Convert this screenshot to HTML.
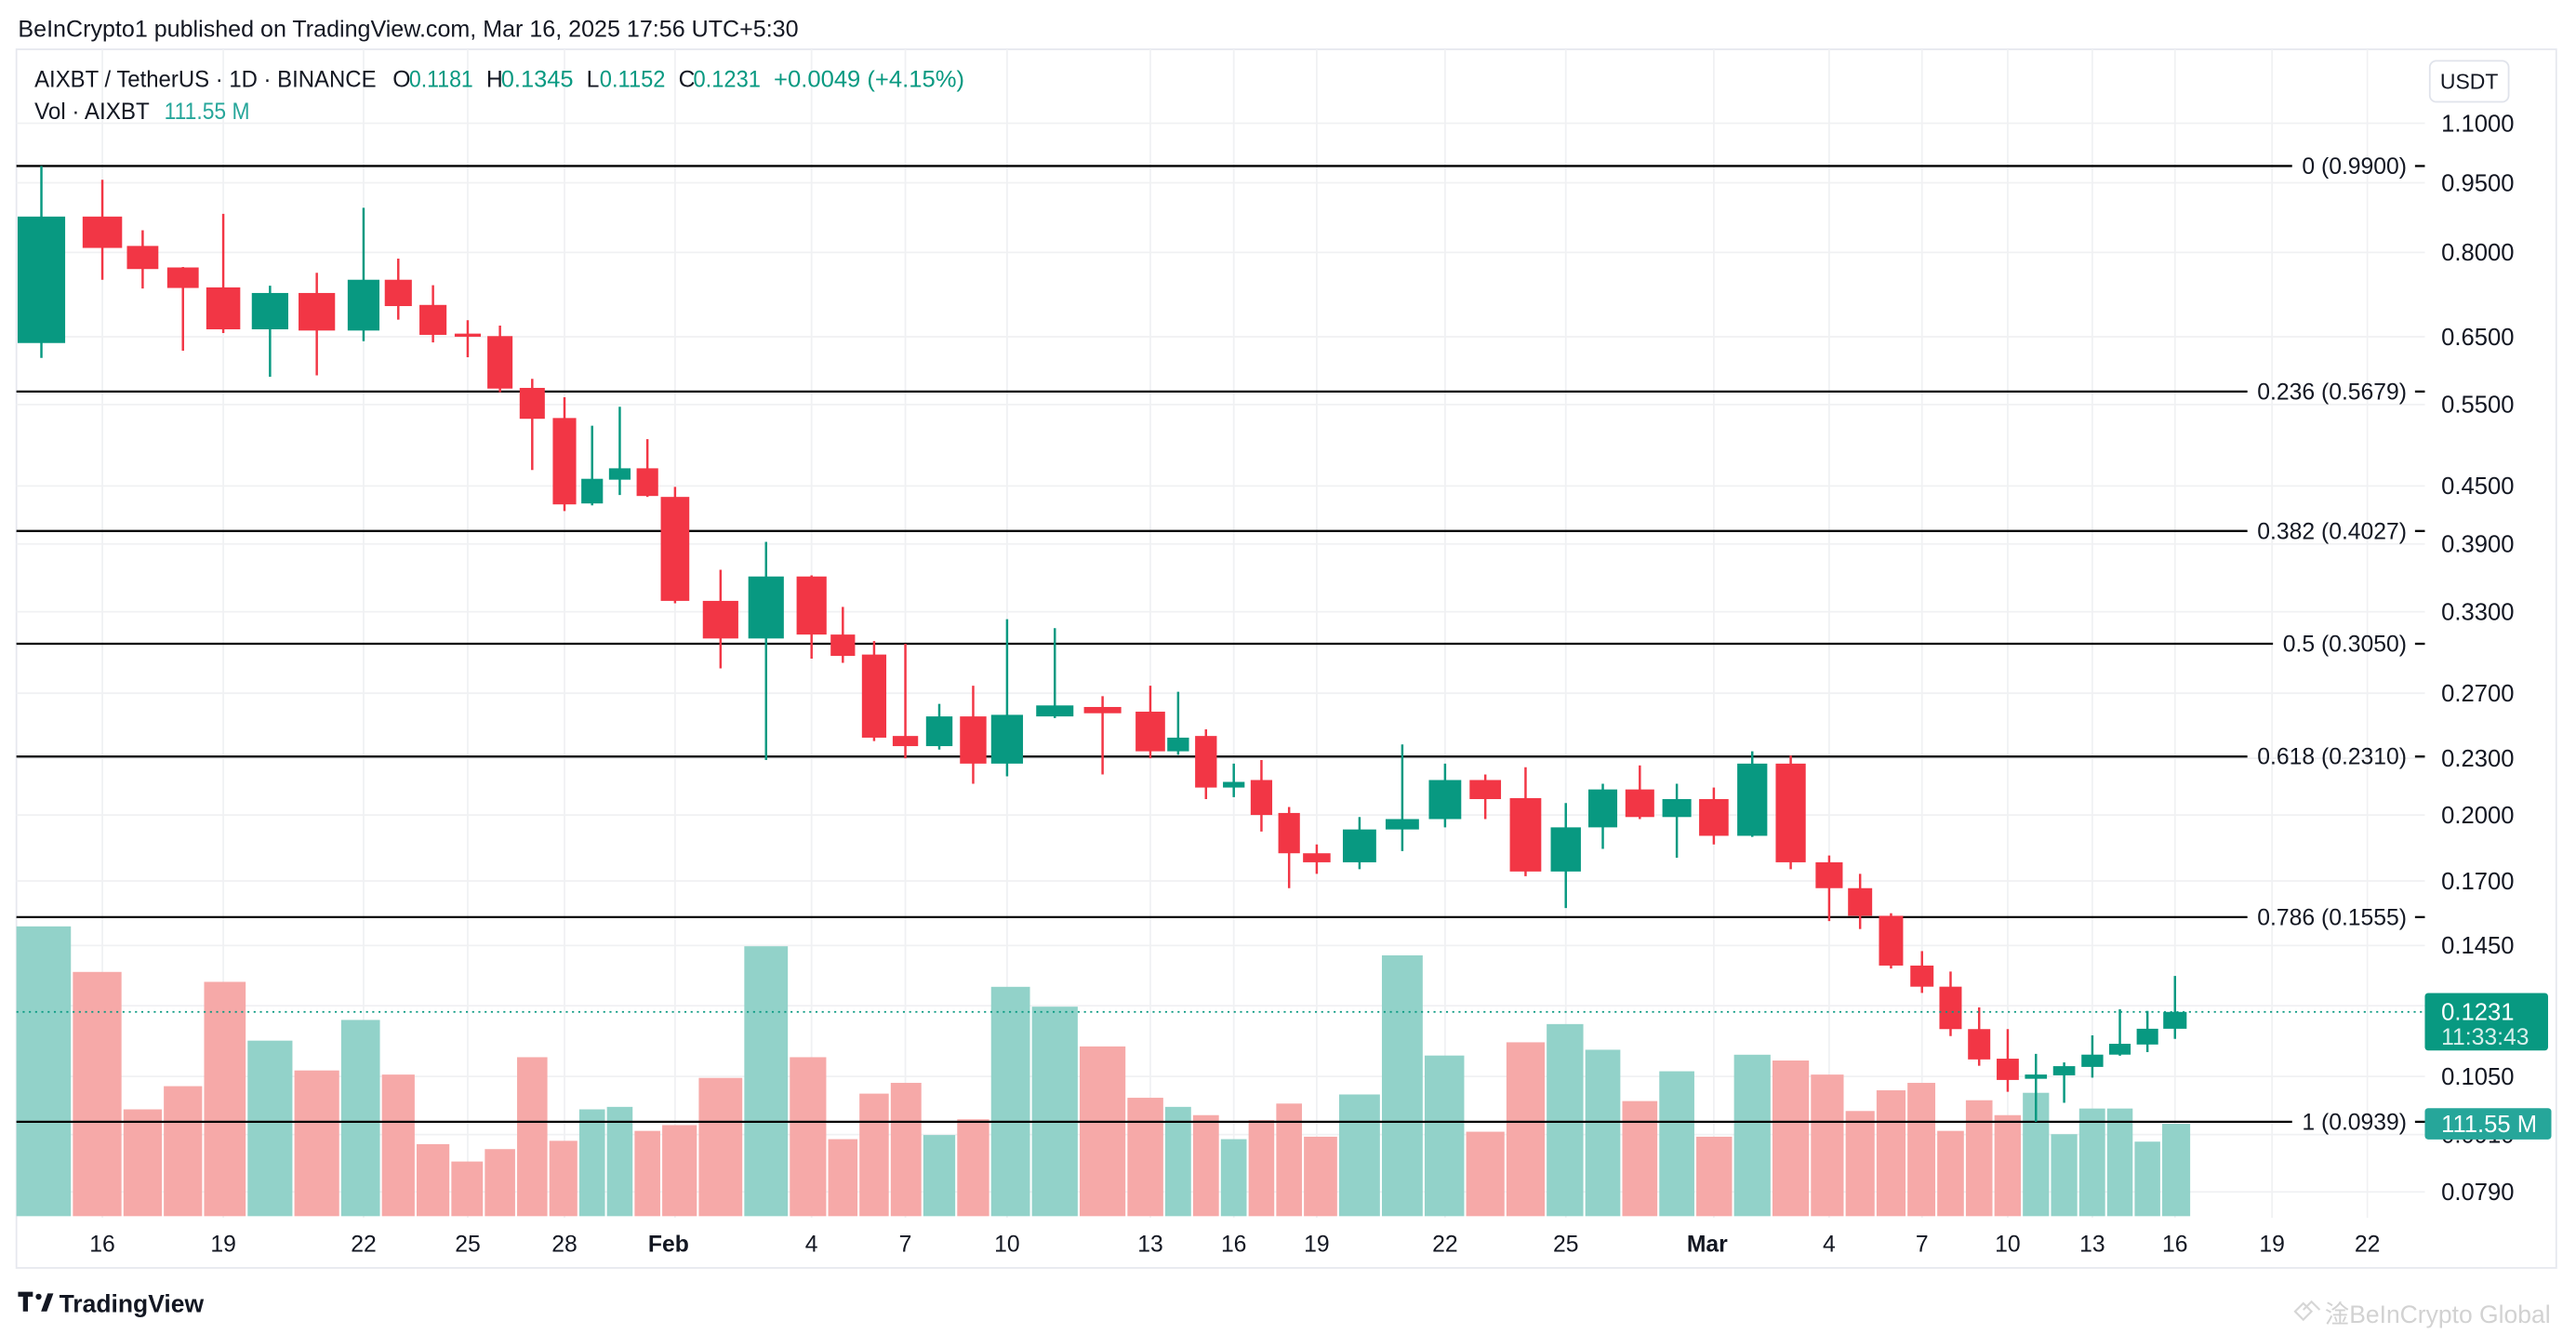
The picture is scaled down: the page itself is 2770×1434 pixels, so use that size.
<!DOCTYPE html>
<html><head><meta charset="utf-8"><style>
html,body{margin:0;padding:0;background:#fff;}
svg{display:block;font-family:"Liberation Sans","DejaVu Sans",sans-serif;}
</style></head><body>
<svg id="chart" xmlns="http://www.w3.org/2000/svg" width="2770" height="1434" viewBox="0 0 1568 811.7" preserveAspectRatio="none">
<rect x="0" y="0" width="1568" height="811.7" fill="#ffffff"/>
<text x="11" y="22.5" font-size="14" fill="#131722" textLength="475" lengthAdjust="spacingAndGlyphs">BeInCrypto1 published on TradingView.com, Mar 16, 2025 17:56 UTC+5:30</text>
<rect x="10" y="30" width="1546" height="741.5" fill="none" stroke="#e6e8ee" stroke-width="1"/>
<g id="grid"></g>
<g id="vol"></g>
<g id="fib"></g>
<g id="candles"></g>
<g id="axis"></g>
<g font-size="14">
 <text x="21" y="53" fill="#131722" textLength="208" lengthAdjust="spacingAndGlyphs">AIXBT / TetherUS · 1D · BINANCE</text>
 <text x="239" y="53" fill="#131722">O</text><text x="249" y="53" fill="#089981" textLength="39" lengthAdjust="spacingAndGlyphs">0.1181</text>
 <text x="296" y="53" fill="#131722">H</text><text x="305" y="53" fill="#089981" textLength="44" lengthAdjust="spacingAndGlyphs">0.1345</text>
 <text x="357" y="53" fill="#131722">L</text><text x="365" y="53" fill="#089981" textLength="40" lengthAdjust="spacingAndGlyphs">0.1152</text>
 <text x="413" y="53" fill="#131722">C</text><text x="422" y="53" fill="#089981" textLength="41" lengthAdjust="spacingAndGlyphs">0.1231</text>
 <text x="471" y="53" fill="#089981" textLength="116" lengthAdjust="spacingAndGlyphs">+0.0049 (+4.15%)</text>
 <text x="21" y="72.5" fill="#131722" textLength="70" lengthAdjust="spacingAndGlyphs">Vol · AIXBT</text>
 <text x="100" y="72.5" fill="#26a69a" textLength="52" lengthAdjust="spacingAndGlyphs">111.55 M</text>
</g>
<g>
 <rect x="1479" y="37" width="48" height="25" rx="4" fill="#fff" stroke="#e0e3eb"/>
 <text x="1503" y="54" font-size="13" text-anchor="middle" fill="#131722">USDT</text>
</g>
<g>
 <path d="M11 786 h9 v3 h-3 v9 h-3 v-9 h-3 z" fill="#131722"/>
 <circle cx="23.5" cy="789" r="1.8" fill="#131722"/>
 <path d="M25 798 l4-11 h3.5 l-4 11 z" fill="#131722"/>
 <text x="36" y="798.5" font-size="15" font-weight="bold" fill="#131722">TradingView</text>
</g>
<g>
 <path d="M1397 798 l5-5 l5 5 l-5 5 z M1402 797 l5-5 l5 5" fill="none" stroke="#d6d6d6" stroke-width="1.2"/>
 <text x="1415" y="805" font-size="15" fill="#d2d2d2" font-family="'Liberation Sans','Noto Sans CJK SC',sans-serif">淦BeInCrypto Global</text>
</g>
</svg>
<script>
// ---- data ----
const dayIndex = [0,1,2,3,4,5,6,7,8,9,10,11,12,13,14,15,16,17,18,19,20,21,22,23,24,25,26,27,28,29,30,31,32,33,34,35,36,37,38,39,40,41,42,43,44,45,46,47,48,49,50,51,52,53,54,55,56,57,58,59,60];
const opens = [0.640,0.874,0.813,0.771,0.734,0.662,0.724,0.660,0.748,0.703,0.655,0.651,0.573,0.532,0.431,0.457,0.470,
0.438,0.339,0.309,0.360,0.312,0.297,0.243,0.237,0.255,0.227,0.255,0.261,0.258,0.234,0.243,0.214,0.218,0.201,0.182,0.178,0.193,0.198,0.218,0.2085,0.174,0.194,0.213,0.199,
0.208,0.190,0.227,0.178,0.167,0.156,0.138,0.131,0.118,0.1097,0.1044,0.1053,0.1075,0.1108,0.1136,0.1181];
const highs = [0.990,0.957,0.845,0.772,0.880,0.737,0.761,0.893,0.788,0.738,0.677,0.668,0.586,0.560,0.522,0.547,0.505,
0.449,0.366,0.392,0.361,0.334,0.307,0.305,0.263,0.275,0.324,0.317,0.268,0.275,0.271,0.247,0.227,0.229,0.204,0.186,0.199,0.238,0.227,0.221,0.225,0.206,0.216,0.226,0.216,
0.214,0.234,0.2315,0.181,0.173,0.157,0.143,0.136,0.1245,0.118,0.111,0.1087,0.1162,0.1239,0.1234,0.1345];
const lows = [0.617,0.748,0.732,0.628,0.656,0.589,0.591,0.643,0.678,0.641,0.618,0.567,0.468,0.423,0.429,0.440,0.438,
0.337,0.287,0.229,0.294,0.291,0.240,0.230,0.235,0.216,0.220,0.254,0.221,0.230,0.232,0.208,0.209,0.192,0.167,0.173,0.175,0.183,0.194,0.198,0.172,0.159,0.184,0.198,0.180,
0.186,0.1895,0.175,0.154,0.151,0.137,0.129,0.116,0.1078,0.1011,0.0939,0.0984,0.1047,0.1105,0.1115,0.1152];
const closes = [0.874,0.809,0.768,0.733,0.662,0.724,0.660,0.748,0.701,0.653,0.650,0.572,0.531,0.430,0.458,0.470,0.439,
0.339,0.309,0.360,0.312,0.296,0.242,0.237,0.255,0.227,0.256,0.262,0.257,0.234,0.242,0.214,0.217,0.200,0.182,0.178,0.193,0.198,0.218,0.208,0.174,0.194,0.213,0.199,0.208,
0.190,0.227,0.178,0.167,0.156,0.138,0.131,0.118,0.1095,0.1041,0.1055,0.1077,0.1108,0.1138,0.1181,0.1231];
const volumes = [350,295,129,157,283,212,176,237,171,87,66,81,192,91,129,132,103,
110,167,326,192,93,148,161,98,117,277,253,205,143,132,122,93,116,136,96,147,315,194,102,210,232,201,139,175,
96,195,188,171,127,152,161,103,140,122,149,99,130,130,90,111.55];
const priceTicks = [1.1,0.95,0.8,0.65,0.55,0.45,0.39,0.33,0.27,0.23,0.2,0.17,0.145,0.125,0.105,0.091,0.079];
const timeTickDays = [1,4,7,10,13,17,20,23,26,29,32,35,38,41,45,48,51,54,57,60,63,66];
const timeTickLabels = ['16','19','22','25','28','Feb','4','7','10','13','16','19','22','25','Mar','4','7','10','13','16','19','22'];
const fibRatios = ['0','0.236','0.382','0.5','0.618','0.786','1'];
const fibPrices = [0.99,0.5679,0.4027,0.305,0.231,0.1555,0.0939];
const lastPrice = 0.1231;
const lastVolumeLabel = '111.55 M';

// ---- axis configuration ----
const timeAxisKnotsPx = [[0,25.2],[1,62.3],[4,135.9],[7,221.3],[10,284.7],[13,343.6],[17,410.9],[20,494],[23,551.1],[26,613],[29,700.2],[32,751],[35,801.5],[38,879.6],[41,953.1],[45,1043.2],[48,1113.4],[51,1169.9],[54,1222.1],[57,1273.6],[60,1323.9],[63,1383],[66,1441]];
const PLOT_L=10, PLOT_R=1476, PLOT_T=30, PLOT_B=741;
function xOf(d){
  const k=timeAxisKnotsPx; let i=0;
  if(d<=k[0][0]) i=0; else if(d>=k[k.length-1][0]) i=k.length-2;
  else { while(i<k.length-2 && d>k[i+1][0]) i++; }
  const a=k[i], b=k[i+1];
  return a[1]+(d-a[0])*(b[1]-a[1])/(b[0]-a[0]);
}
const LN_TOP=Math.log(1.1), PX_PER_LN=246.9;
function yOf(p){ return 75+(LN_TOP-Math.log(p))*PX_PER_LN; }
const VOL_BASE=740, VOL_PER_PX=1.985;
function yVol(v){ return VOL_BASE - v/VOL_PER_PX; }

const NS='http://www.w3.org/2000/svg';
function mk(tag, parent, attrs){ const e=document.createElementNS(NS,tag); for(const k in attrs) e.setAttribute(k,attrs[k]); parent.appendChild(e); return e; }
const G=document.getElementById('grid'), V=document.getElementById('vol'), F=document.getElementById('fib'), C=document.getElementById('candles'), A=document.getElementById('axis');
const UP='#089981', DN='#f23645', UPV='#92d2c9', DNV='#f6a9a8';

// grid
priceTicks.forEach(p=>{
  const y=yOf(p);
  const l=mk('line',G,{x1:PLOT_L,x2:PLOT_R,y1:y,y2:y,stroke:'#f0f1f3','stroke-width':1});
  
  
});
timeTickDays.forEach(d=>{
  const x=xOf(d);
  const l=mk('line',G,{x1:x,x2:x,y1:PLOT_T,y2:PLOT_B,stroke:'#f0f1f3','stroke-width':1});
  
  
});

// volume
dayIndex.forEach((d,i)=>{
  const l=(xOf(d)+xOf(d-1))/2, r=(xOf(d)+xOf(d+1))/2;
  const left=Math.max(PLOT_L,l+0.6), right=r-0.6;
  const y=yVol(volumes[i]);
  const up=closes[i]>=opens[i];
  const b=mk('rect',V,{x:left,y:y,width:Math.max(1,right-left),height:VOL_BASE-y,fill:up?UPV:DNV});
  
  
});

// fib levels
fibRatios.forEach((r,i)=>{
  const y=yOf(fibPrices[i]);
  const label=r+' ('+fibPrices[i].toFixed(4)+')';
  const t=mk('text',F,{x:1465,y:y+4.8,'font-size':14,'text-anchor':'end',fill:'#131722'});
  t.textContent=label;
  
  
  let w=label.length*6.9;
  try{ const m=t.getComputedTextLength(); if(m>0) w=m; }catch(e){}
  const ln=mk('line',F,{x1:PLOT_L,x2:1465-w-6,y1:y,y2:y,stroke:'#000','stroke-width':1.3});
  
  
  const ds=mk('line',F,{x1:1470,x2:1476,y1:y,y2:y,stroke:'#000','stroke-width':1.3});
  
  
});

// candles
dayIndex.forEach((d,i)=>{
  const x=xOf(d);
  const slot=((xOf(d+1)-xOf(d-1))/2);
  const w=Math.max(3,slot*0.78);
  const up=closes[i]>=opens[i], col=up?UP:DN;
  const g=mk('g',C,{});
  
  
  const wk=mk('line',g,{x1:x,x2:x,y1:yOf(highs[i]),y2:yOf(lows[i]),stroke:col,'stroke-width':1.4});
  
  
  const top=yOf(Math.max(opens[i],closes[i])), bot=yOf(Math.min(opens[i],closes[i]));
  const bx=mk('rect',g,{x:Math.max(PLOT_L,x-w/2),y:top,width:w,height:Math.max(1.2,bot-top),fill:col});
  
  
});

// last price dotted line
const ly=yOf(lastPrice);
const dl=mk('line',A,{x1:PLOT_L,x2:PLOT_R,y1:ly,y2:ly,stroke:UP,'stroke-width':1,'stroke-dasharray':'1.2 2.6'});



// price axis labels
priceTicks.forEach(p=>{
  const t=mk('text',A,{x:1486,y:yOf(p)+5,'font-size':14.5,fill:'#131722'});
  t.textContent=p.toFixed(4);
  
  
});
// time axis labels
timeTickDays.forEach((d,i)=>{
  const bold=(timeTickLabels[i]==='Feb'||timeTickLabels[i]==='Mar');
  const t=mk('text',A,{x:xOf(d)+(bold?-4:0),y:761.5,'font-size':14,'text-anchor':'middle',fill:'#131722','font-weight':bold?'bold':'normal'});
  t.textContent=timeTickLabels[i];
  
  
});
// last price box
const pb=mk('rect',A,{x:1476,y:ly-11.5,width:75,height:35,rx:2,fill:UP});


const pt=mk('text',A,{x:1486,y:ly+5,'font-size':14.5,fill:'#ffffff'});
pt.textContent=lastPrice.toFixed(4);


const ct=mk('text',A,{x:1486,y:ly+20,'font-size':14,fill:'#d8efeb'});
ct.textContent='11:33:43';


// volume badge
const vy=yVol(volumes[volumes.length-1]);
const vb=mk('rect',A,{x:1476,y:vy-9.5,width:77,height:19,rx:2,fill:'#26a69a'});


const vt=mk('text',A,{x:1486,y:vy+5,'font-size':14.5,fill:'#ffffff'});
vt.textContent=lastVolumeLabel;


</script>
</body></html>
